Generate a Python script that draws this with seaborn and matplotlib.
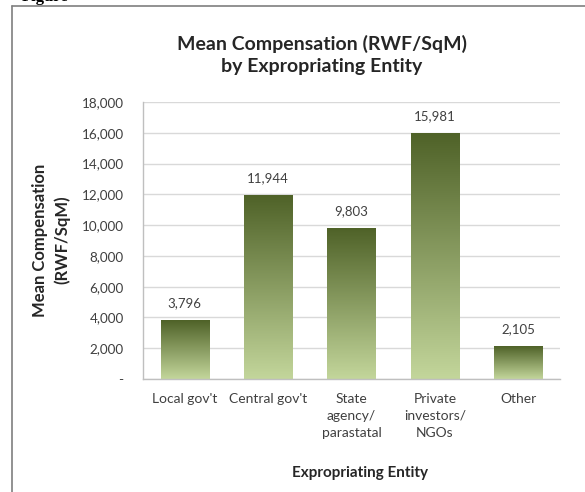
import numpy as np
import matplotlib
matplotlib.use("Agg")
import matplotlib.pyplot as plt
import seaborn as sns
import pandas as pd
from matplotlib.colors import LinearSegmentedColormap
from matplotlib.ticker import FuncFormatter, MultipleLocator
from matplotlib.lines import Line2D

categories = ["Local gov't", "Central gov't", "State\nagency/\nparastatal",
              "Private\ninvestors/\nNGOs", "Other"]
values = [3796, 11944, 9803, 15981, 2105]
value_labels = ["3,796", "11,944", "9,803", "15,981", "2,105"]
title = "Mean Compensation (RWF/SqM)\nby Expropriating Entity"
ylabel = "Mean Compensation\n(RWF/SqM)"
xlabel = "Expropriating Entity"

sns.set_style("white")
plt.rcParams['font.family'] = ['Lato', 'DejaVu Sans']

W, H = 585, 492
fig = plt.figure(figsize=(W / 100, H / 100), dpi=100)
ax = fig.add_axes([143 / W, 1 - 379 / H, 417 / W, 277 / H])

df = pd.DataFrame({"cat": categories, "val": values})
sns.barplot(data=df, x="cat", y="val", width=0.58, ax=ax, color="#8a9f5e",
            zorder=2)

cmap = LinearSegmentedColormap.from_list("g", ["#c3d69b", "#4f6228"])
grad = np.linspace(0, 1, 256).reshape(-1, 1)
for p in ax.patches:
    x0, y0 = p.get_x(), p.get_y()
    w, h = p.get_width(), p.get_height()
    ax.imshow(grad, extent=[x0, x0 + w, y0, y0 + h], origin="lower",
              aspect="auto", cmap=cmap, zorder=2.5, interpolation="bilinear")
    p.set_facecolor("none")
    p.set_edgecolor("none")
ax.set_xlim(-0.5, 4.5)
ax.set_ylim(0, 18000)
ax.set_aspect("auto")

for p, lab in zip(ax.patches, value_labels):
    ax.annotate(lab, (p.get_x() + p.get_width() / 2, p.get_height()),
                xytext=(0, 8), textcoords="offset points", ha="center",
                va="bottom", fontsize=9.5, color="#404040")

ax.yaxis.set_major_locator(MultipleLocator(2000))
ax.yaxis.set_major_formatter(FuncFormatter(lambda v, _: "-" if v == 0 else f"{int(v):,}"))
ax.grid(axis="y", color="#d9d9d9", linewidth=1, zorder=0)
ax.set_axisbelow(True)
for s in ["top", "right"]:
    ax.spines[s].set_visible(False)
for s in ["left", "bottom"]:
    ax.spines[s].set_visible(True)
    ax.spines[s].set_color("#bfbfbf")
    ax.spines[s].set_linewidth(1)

ax.tick_params(axis="y", length=0, pad=14, labelsize=9.7, labelcolor="#404040")
ax.tick_params(axis="x", length=0, pad=10, labelsize=10, labelcolor="#404040")
for t in ax.get_xticklabels():
    t.set_linespacing(1.5)
    t.set_verticalalignment("top")

ax.set_xlabel("")
ax.set_ylabel("")
fig.text(51 / W, 1 - 240 / H, ylabel, rotation=90, ha="center", va="center",
         fontsize=12, fontweight="bold", color="#262626", linespacing=1.45)
fig.text(360 / W, 1 - 473 / H, xlabel, ha="center", va="center",
         fontsize=11, fontweight="bold", color="#262626")
fig.text(322 / W, 1 - 55 / H, title, ha="center", va="center",
         fontsize=14, fontweight="bold", color="#262626", linespacing=1.3)

# outer chart frame
fig.add_artist(Line2D([12 / W, 12 / W], [0, 1 - 6 / H], color="#7f7f7f", lw=1.2))
fig.add_artist(Line2D([12 / W, 1], [1 - 6 / H, 1 - 6 / H], color="#7f7f7f", lw=1.2))
# cut-off caption above the chart
fig.text(22 / W, 1 - 1 / H, "Figure", ha="left", va="baseline", fontsize=12,
         fontweight="bold", family="Liberation Serif", color="black")

fig.savefig("out.png", dpi=100)
